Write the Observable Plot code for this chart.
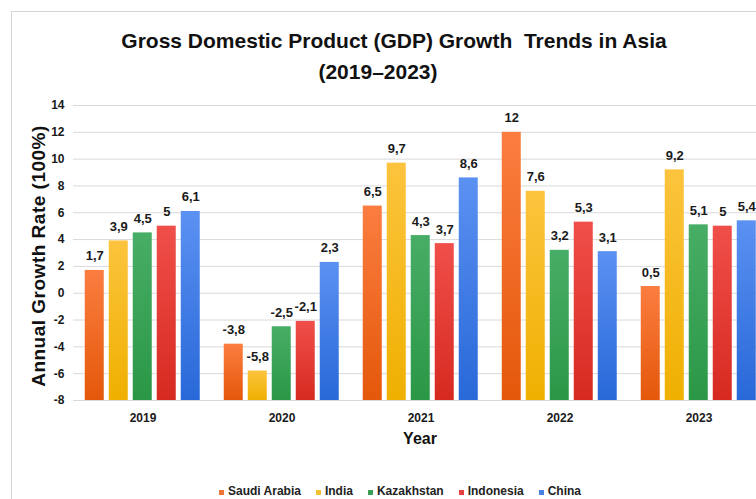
<!DOCTYPE html>
<html>
<head>
<meta charset="utf-8">
<script src="https://cdn.jsdelivr.net/npm/d3@7"></script>
<script src="https://cdn.jsdelivr.net/npm/@observablehq/plot@0.6"></script>
<style>
  html, body { margin: 0; padding: 0; background: #fff; }
  #wrap { position: relative; width: 756px; height: 499px; overflow: hidden; background: #fff;
          font-family: "Liberation Sans", Arial, sans-serif; color: #111; }
  #frame { position: absolute; left: 11px; top: 11px; width: 900px; height: 700px;
           border-left: 1px solid #d4d4d4; border-top: 1px solid #d4d4d4; }
  .t { position: absolute; font-weight: bold; white-space: nowrap; text-align: center; }
  #t1 { left: 44px; width: 700px; top: 25px; font-size: 21px; line-height: 31px; }
  #t2 { left: 28px; width: 700px; top: 56px; font-size: 21px; line-height: 31px; }
  #ylab { left: 38px; top: 256px; font-size: 19px; line-height: 19px; letter-spacing: 0.5px;
          transform: translate(-50%, -50%) rotate(-90deg); }
  #xlab { left: 320px; width: 200px; top: 431px; font-size: 16px; line-height: 16px; }
  #legend { position: absolute; left: 0; width: 800px; top: 485px; display: flex; justify-content: center;
            gap: 15px; font-size: 12px; line-height: 12px; font-weight: bold; color: #222; }
  #legend .sw { display: inline-block; width: 5px; height: 5px; margin-right: 4px; }
  #chart { position: absolute; left: 0; top: 0; }
  #chart svg { max-width: none !important; }
</style>
</head>
<body>
<div id="wrap">
  <div id="frame"></div>
  <div id="chart"></div>
  <div class="t" id="t1">Gross Domestic Product (GDP) Growth&nbsp; Trends in Asia</div>
  <div class="t" id="t2">(2019–2023)</div>
  <div class="t" id="ylab">Annual Growth Rate (100%)</div>
  <div class="t" id="xlab">Year</div>
  <div id="legend"></div>
</div>
<script>
// ---- data ----
const years = ["2019", "2020", "2021", "2022", "2023"];
const countries = ["Saudi Arabia", "India", "Kazakhstan", "Indonesia", "China"];
const saudiArabia = [1.7, -3.8, 6.5, 12, 0.5];
const india = [3.9, -5.8, 9.7, 7.6, 9.2];
const kazakhstan = [4.5, -2.5, 4.3, 3.2, 5.1];
const indonesia = [5, -2.1, 3.7, 5.3, 5];
const china = [6.1, 2.3, 8.6, 3.1, 5.4];
const yTicks = [-8, -6, -4, -2, 0, 2, 4, 6, 8, 10, 12, 14];

// ---- styles ----
const gradTop = ["#fb7d40", "#fcc43e", "#48ad66", "#f04f4a", "#5b91f2"];
const gradBottom = ["#e4580a", "#efb000", "#2a9746", "#d62a20", "#2868d8"];
const swatch = ["#ec7434", "#f2c032", "#3a9e58", "#e44040", "#4a82e4"];

const series = [saudiArabia, india, kazakhstan, indonesia, china];
const data = [];
years.forEach((yr, i) => {
  countries.forEach((c, j) => data.push({ year: yr, country: c, value: series[j][i] }));
});
const fmt = v => String(v).replace(".", ",");
const gradIds = countries.map((c, i) => `url(#grad${i})`);

const svg = Plot.plot({
  width: 790,
  height: 430,
  marginLeft: 71.25,
  marginRight: 21.25,
  marginTop: 105,
  marginBottom: 30,
  style: { fontFamily: "'Liberation Sans', Arial, sans-serif", background: "transparent", overflow: "visible", color: "#1a1a1a" },
  fx: { domain: years, padding: 0, label: null, axis: null },
  x: { domain: countries, paddingInner: 0.2, paddingOuter: 0.46, axis: null },
  y: { domain: [-8, 14], axis: null },
  color: { domain: countries, range: gradIds },
  marks: [
    Plot.gridY(yTicks, { stroke: "#d9d9d9", strokeOpacity: 1 }),
    Plot.axisY(yTicks, { tickSize: 0, tickPadding: 9, tickFormat: d => String(d), fontSize: 12, fontWeight: "bold", label: null }),
    Plot.barY(data, { fx: "year", x: "country", y1: -8, y2: "value", fill: "country" }),
    Plot.text(data, { fx: "year", x: "country", y: "value", text: d => fmt(d.value), lineAnchor: "bottom", dy: -10, fontSize: 13, fontWeight: "bold", fill: "#1a1a1a" }),
    Plot.axisFx({ anchor: "bottom", tickSize: 0, tickPadding: 13, fontSize: 12, fontWeight: "bold", label: null })
  ]
});
svg.style.maxWidth = "none";
const defs = d3.select(svg).insert("defs", ":first-child");
countries.forEach((c, i) => {
  const g = defs.append("linearGradient").attr("id", `grad${i}`).attr("x1", 0).attr("y1", 0).attr("x2", 0).attr("y2", 1);
  g.append("stop").attr("offset", "0%").attr("stop-color", gradTop[i]);
  g.append("stop").attr("offset", "100%").attr("stop-color", gradBottom[i]);
});
document.getElementById("chart").appendChild(svg);

const legend = d3.select("#legend");
countries.forEach((c, i) => {
  const item = legend.append("div");
  item.append("span").attr("class", "sw").style("background", swatch[i]);
  item.append("span").text(c);
});
</script>
</body>
</html>
